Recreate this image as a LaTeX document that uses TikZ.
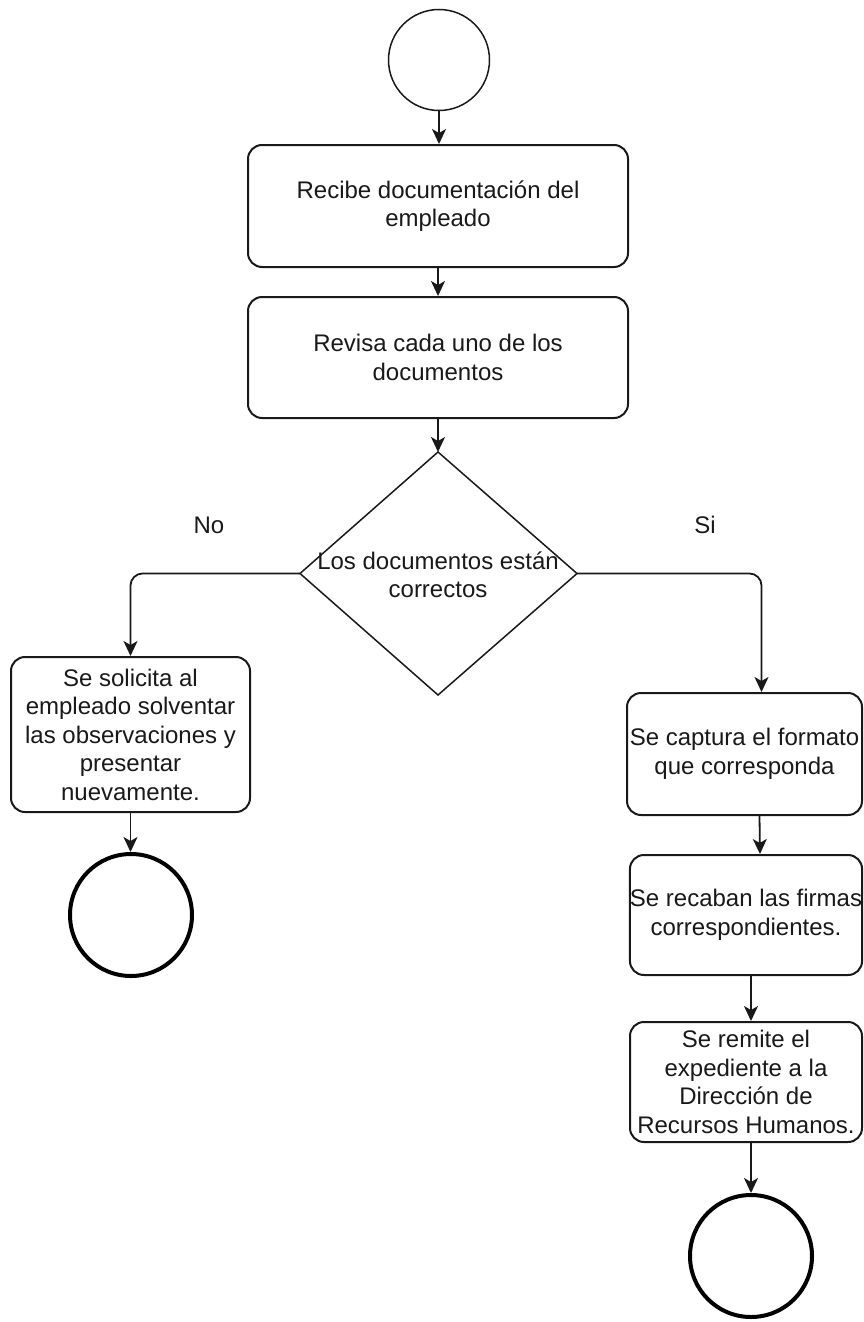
\documentclass[tikz,border=0pt]{standalone}
\usepackage{fontspec}
\setmainfont{Liberation Sans}
\usetikzlibrary{arrows.meta,shapes.geometric}
\begin{document}
\begin{tikzpicture}[x=1pt,y=-1pt,
  txt/.style={font=\fontsize{24}{28.5}\selectfont, align=center, text=black!90},
  box/.style={txt, draw=black!90, line width=2pt, rounded corners=14pt, fill=white, inner sep=0pt},
  endc/.style={circle, draw=black, line width=4pt, minimum size=122pt, inner sep=0pt},
  arr/.style={draw=black!90, line width=1.8pt, -{Stealth[length=15pt,width=14pt,inset=4pt]}}]
\useasboundingbox (0,0) rectangle (864,1322);
% start
\node[circle, draw=black!90, line width=1.5pt, minimum size=101pt, inner sep=0pt] (start) at (439,60) {};
% main column
\node[box, minimum width=380pt, minimum height=122pt] (b1) at (438,206) {Recibe documentación del\\empleado};
\node[box, minimum width=380pt, minimum height=121pt] (b2) at (438,357.5) {Revisa cada uno de los\\documentos};
% decision
\coordinate (dt) at (438,452);
\coordinate (dr) at (577,573.5);
\coordinate (db) at (438,695);
\coordinate (dl) at (300,573.5);
\draw[line width=1.5pt, draw=black!90] (dt) -- (dr) -- (db) -- (dl) -- cycle;
\node[txt] (dtext) at (438,575) {Los documentos están\\correctos};
\node[txt] (no) at (209,525) {No};
\node[txt] (si) at (705,525) {Si};
% left branch
\node[box, minimum width=239pt, minimum height=155pt] (l1) at (130.5,734.5) {Se solicita al\\empleado solventar\\las observaciones y\\presentar\\nuevamente.};
\node[endc] (e1) at (131,915) {};
% right branch
\node[box, minimum width=235pt, minimum height=122pt] (r1) at (744.5,754) {Se captura el formato\\que corresponda};
\node[box, minimum width=232pt, minimum height=120pt] (r2) at (746,915) {Se recaban las firmas\\correspondientes.};
\node[box, minimum width=232pt, minimum height=120pt] (r3) at (746,1082) {Se remite el\\expediente a la\\Dirección de\\Recursos Humanos.};
\node[endc] (e2) at (751,1256) {};
% connectors
\draw[arr] (start.south) -- (start.south |- b1.north);
\draw[arr] (b1.south) -- (b2.north);
\draw[arr] (b2.south) -- (dt);
\draw[arr, rounded corners=12pt] (dl) -| (l1.north);
\draw[arr] (l1.south) -- (l1.south |- e1.north);
\draw[arr, rounded corners=12pt] (dr) -| ([xshift=17pt]r1.north);
\draw[arr] ([xshift=15pt]r1.south) -- ([xshift=14pt]r2.north);
\draw[arr] ([xshift=5pt]r2.south) -- ([xshift=5pt]r3.north);
\draw[arr] (r3.south -| e2) -- (e2.north);
\end{tikzpicture}
\end{document}
